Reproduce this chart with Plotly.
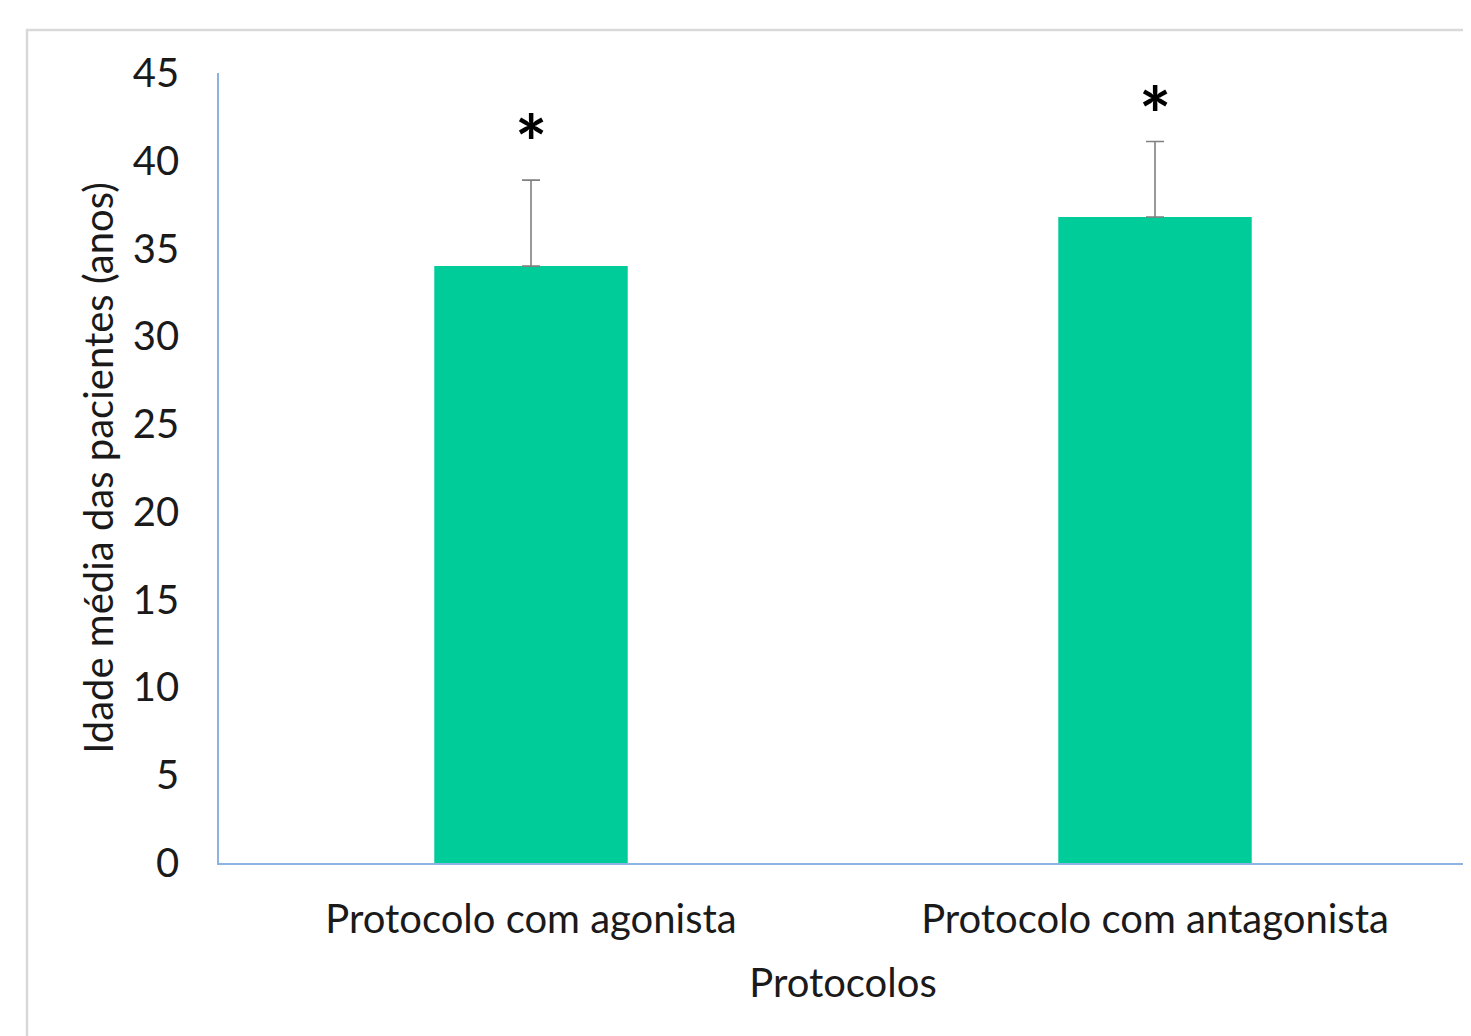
import plotly.graph_objects as go

categories = ["Protocolo com agonista", "Protocolo com antagonista"]
mean_age = [34.0, 36.8]
std_err = [4.9, 4.3]
star_y = [41.9, 43.5]
y_ticks = [0, 5, 10, 15, 20, 25, 30, 35, 40, 45]

FONT = "Lato"
TXT = "#1a1a1a"
AX = "#8db3e2"
# page body has an 8px default margin; compensate
W, H = 1463, 1028
L, T = 211, 65
PW, PH = 1248, 790

fig = go.Figure()
fig.add_trace(go.Bar(
    x=categories, y=mean_age, width=0.31,
    marker=dict(color="#00cc99", line=dict(width=0)),
    error_y=dict(type="data", array=std_err, symmetric=False, arrayminus=[0, 0],
                 color="#808080", thickness=1.6, width=9),
    showlegend=False,
))

for c, sy in zip(categories, star_y):
    fig.add_annotation(x=c, y=sy, text="<b>*</b>", showarrow=False,
                       font=dict(family=FONT, size=76, color="black"),
                       xanchor="center", yanchor="middle", yshift=-14)

fig.update_layout(
    width=W, height=H,
    margin=dict(l=L, r=W - L - PW, t=T, b=H - T - PH, pad=0),
    paper_bgcolor="white", plot_bgcolor="white",
    font=dict(family=FONT, color=TXT),
    xaxis=dict(showline=True, linecolor=AX, linewidth=1.5, showgrid=False, zeroline=False,
               tickfont=dict(size=40, color=TXT), ticks="", ticklabelstandoff=20,
               title=dict(text="Protocolos", font=dict(size=40, color=TXT), standoff=28)),
    yaxis=dict(showline=True, linecolor=AX, linewidth=1.5, showgrid=False, zeroline=False,
               range=[0, 45], tickvals=y_ticks, tickfont=dict(size=40, color=TXT),
               ticks="", ticklabelstandoff=30,
               title=dict(text="Idade média das pacientes (anos)", font=dict(size=40, color=TXT), standoff=7)),
    shapes=[dict(type="rect", xref="paper", yref="paper",
                 x0=(27 - 8 - L) / PW, x1=1.2, y0=(T + PH - (30 - 8)) / PH, y1=-0.3,
                 line=dict(color="#d9d9d9", width=2.5), fillcolor="rgba(0,0,0,0)", layer="below")],
)

fig.write_html("out.html")
